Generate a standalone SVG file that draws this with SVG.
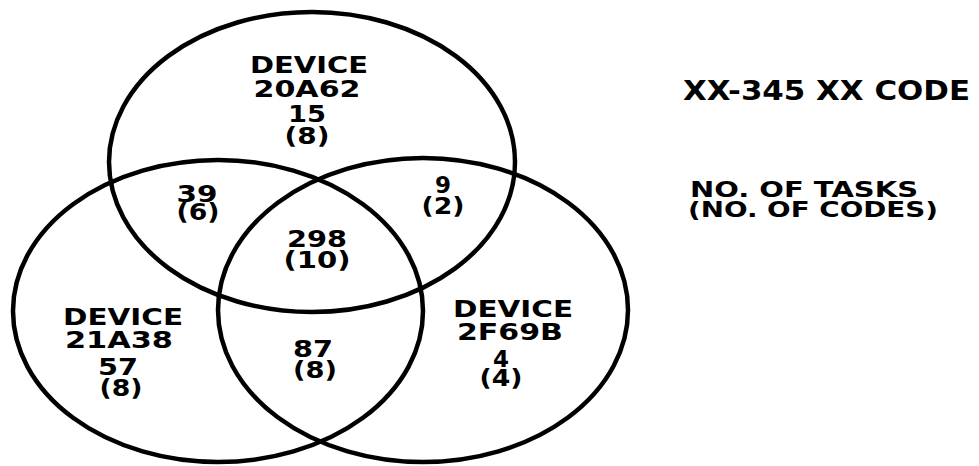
<svg xmlns="http://www.w3.org/2000/svg" width="979" height="466" viewBox="0 0 979 466">
<style>
.e{fill:none;stroke:#000;stroke-width:4.5}
.t{font-family:"DejaVu Sans","Liberation Sans",sans-serif;font-weight:bold;font-size:23px;text-anchor:middle;fill:#000}
.l{font-family:"DejaVu Sans","Liberation Sans",sans-serif;font-weight:bold;fill:#000}
</style>
<rect width="979" height="466" fill="#fff"/>
<g id="connectors"></g>
<g id="device-20A62">
<ellipse class="e" cx="312" cy="162" rx="203" ry="150"/>
<text class="t" x="309" y="73" textLength="118" lengthAdjust="spacingAndGlyphs">DEVICE</text>
<text class="t" x="307" y="97" textLength="107" lengthAdjust="spacingAndGlyphs">20A62</text>
<text class="t" x="307" y="122" textLength="38" lengthAdjust="spacingAndGlyphs">15</text>
<text class="t" x="307" y="144" textLength="45" lengthAdjust="spacingAndGlyphs">(8)</text>
</g>
<g id="device-21A38">
<ellipse class="e" cx="218" cy="311" rx="205" ry="151"/>
<text class="t" x="123" y="325" textLength="120" lengthAdjust="spacingAndGlyphs">DEVICE</text>
<text class="t" x="119" y="348" textLength="108" lengthAdjust="spacingAndGlyphs">21A38</text>
<text class="t" x="118" y="375" textLength="40" lengthAdjust="spacingAndGlyphs">57</text>
<text class="t" x="121" y="396" textLength="43" lengthAdjust="spacingAndGlyphs">(8)</text>
</g>
<g id="device-2F69B">
<ellipse class="e" cx="423" cy="310" rx="205" ry="152"/>
<text class="t" x="513" y="317" textLength="120" lengthAdjust="spacingAndGlyphs">DEVICE</text>
<text class="t" x="510" y="340" textLength="106" lengthAdjust="spacingAndGlyphs">2F69B</text>
<text class="t" x="501" y="367">4</text>
<text class="t" x="501" y="386" textLength="43" lengthAdjust="spacingAndGlyphs">(4)</text>
</g>
<g id="overlap-top-left">
<text class="t" x="197" y="202" textLength="41" lengthAdjust="spacingAndGlyphs">39</text>
<text class="t" x="198" y="220" textLength="43" lengthAdjust="spacingAndGlyphs">(6)</text>
</g>
<g id="overlap-top-right">
<text class="t" x="443" y="193">9</text>
<text class="t" x="443" y="214" textLength="43" lengthAdjust="spacingAndGlyphs">(2)</text>
</g>
<g id="overlap-all">
<text class="t" x="317" y="247" textLength="60" lengthAdjust="spacingAndGlyphs">298</text>
<text class="t" x="317" y="268" textLength="67" lengthAdjust="spacingAndGlyphs">(10)</text>
</g>
<g id="overlap-left-right">
<text class="t" x="313" y="357" textLength="40" lengthAdjust="spacingAndGlyphs">87</text>
<text class="t" x="315" y="378" textLength="44" lengthAdjust="spacingAndGlyphs">(8)</text>
</g>
<g id="legend">
<text class="l" x="683" y="100" font-size="27" textLength="287" lengthAdjust="spacingAndGlyphs">XX-345 XX CODE</text>
<text class="l" x="690" y="197" font-size="21" textLength="228" lengthAdjust="spacingAndGlyphs">NO. OF TASKS</text>
<text class="l" x="688" y="217" font-size="21" textLength="250" lengthAdjust="spacingAndGlyphs">(NO. OF CODES)</text>
</g>
</svg>
